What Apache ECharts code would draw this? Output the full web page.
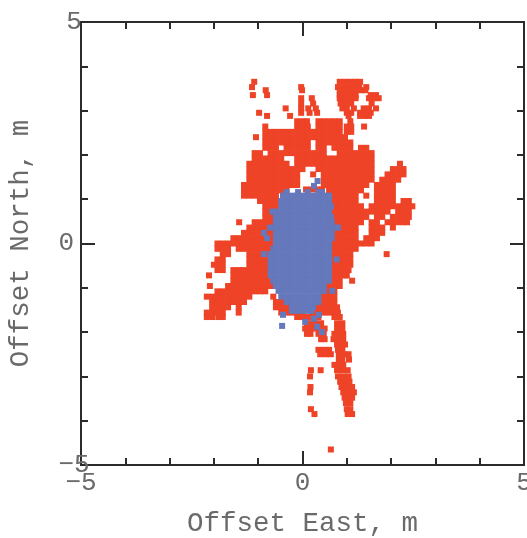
<!DOCTYPE html>
<html><head><meta charset="utf-8">
<style>html,body{margin:0;padding:0;background:#fff}#c{width:527px;height:538px}</style>
<script src="https://cdn.jsdelivr.net/npm/echarts@6/dist/echarts.min.js"></script>
</head><body><div id="c"></div>
<script>
const xTickValues=[-4,-3,-2,-1,1,2,3,4];
const yTickValues=[-4,-3,-2,-1,1,2,3,4];
const labelValues=[-5,0,5];
const xTitle="Offset East, m";
const yTitle="Offset North, m";
// each row: [north, [east values]] in metres
const redRows=[
[3.65,[-1.09,.84,.96,1.08,1.2,1.3]],
[3.53,[-1.14,-.03,.8,.92,1.04,1.16,1.28,1.44]],
[3.46,[-.83,-.01,.84,.96,1.08,1.2,1.32,1.42]],
[3.35,[-.8,-1.12,.84,.96,1.08,1.2,1.54,1.66]],
[3.28,[-.03,.21,.84,.96,1.08,1.2,1.5,1.6,1.72]],
[3.16,[-.03,.24,.86,.98,1.1,1.56]],
[3.05,[-.38,-.03,.13,.3,.9,1.0,1.16,1.38,1.5,1.66]],
[2.95,[-.98,-.03,.16,.33,1.0,1.1,1.3,1.42,1.54]],
[2.88,[-.8,-.28,1.04,1.3,1.42,1.5]],
[2.76,[-.12,0,.1,.36,.48,.6,.72,.84,1.08]],
[2.64,[-.84,-.12,0,.12,.36,.48,.6,.72,.84,1.0,1.1,1.39]],
[2.52,[-.84,-.72,-.6,-.48,-.36,-.24,-.12,0,.12,.24,.36,.48,.6,.72,.84,1.0,1.1]],
[2.4,[-1.05,-.84,-.72,-.6,-.48,-.36,-.24,-.12,0,.12,.24,.36,.48,.6,.72,.84,.96]],
[2.28,[-.84,-.72,-.6,-.48,-.36,-.24,-.12,0,.12,.36,.48,.6,.72,.84,.96,1.08]],
[2.16,[-.84,-.72,-.6,-.36,-.24,-.12,0,.12,.36,.48,.72,.84,.96,1.08,1.32,1.44]],
[2.04,[-1.08,-.96,-.72,-.6,-.48,-.36,-.24,-.12,0,.12,.24,.36,.48,.84,.96,1.08,1.2,1.32,1.44,1.56]],
[1.92,[-1.08,-.96,-.84,-.72,-.6,-.48,-.12,0,.12,.24,.36,.48,.6,.72,.84,.96,1.08,1.2,1.32,1.44,1.56]],
[1.8,[-1.2,-1.08,-.96,-.84,-.72,-.6,-.48,-.36,-.12,0,.12,.24,.36,.48,.6,.72,.84,.96,1.08,1.2,1.32,1.44,1.56,2.2]],
[1.68,[-1.2,-1.08,-.96,-.84,-.72,-.6,-.48,-.36,-.24,-.12,0,.36,.48,.6,.72,.84,.96,1.08,1.2,1.32,1.44,1.56,2.04,2.16,2.28]],
[1.56,[-1.2,-1.08,-.96,-.84,-.72,-.6,-.48,-.36,-.24,-.12,.24,.48,.6,.72,.84,.96,1.08,1.2,1.32,1.44,1.56,1.92,2.04,2.16,2.28]],
[1.44,[-1.2,-1.08,-.96,-.84,-.72,-.6,-.48,-.36,-.24,-.12,.48,.6,.72,.84,.96,1.08,1.2,1.32,1.44,1.56,1.8,1.92,2.04,2.16]],
[1.32,[-1.32,-1.2,-1.08,-.96,-.84,-.72,-.6,-.48,-.36,-.24,-.12,.48,.6,.72,.84,.96,1.08,1.2,1.32,1.44,1.68,1.8,1.92,2.04]],
[1.22,[.08,.2,.32,.44]],
[1.2,[-1.32,-1.2,-1.08,-.96,-.84,-.72,-.6,-.48,-.36,.6,.72,.84,.96,1.08,1.2,1.32,1.68,1.8,1.92,2.04]],
[1.08,[-1.32,-1.2,-1.08,-.96,-.84,-.72,-.6,.6,.72,.84,.96,1.08,1.2,1.44,1.68,1.8,1.92,2.04]],
[.96,[-.96,-.84,-.72,-.6,.6,.72,.84,.96,1.08,1.2,1.68,1.8,1.92,2.04,2.28,2.4]],
[.84,[-.84,-.72,-.6,.6,.72,.84,.96,1.08,1.2,1.32,1.56,1.68,1.8,1.92,2.04,2.16,2.28,2.4,2.48]],
[.72,[-.84,-.72,-.6,.6,.72,.84,.96,1.08,1.2,1.32,1.44,1.56,1.68,1.8,1.92,2.16,2.28,2.4]],
[.6,[-.84,-.72,-.6,.6,.72,.84,.96,1.08,1.2,1.32,1.44,1.68,1.8,2.04,2.16,2.28,2.4]],
[.48,[-1.43,-1.08,-.96,-.84,-.72,-.6,.6,.72,.84,.96,1.08,1.2,1.32,1.56,1.68,1.92,2.04,2.16,2.28,2.36]],
[.36,[-1.2,-1.08,-.96,-.84,-.72,-.6,.6,.72,.84,.96,1.08,1.2,1.56,1.68,1.8,2.04]],
[.24,[-1.32,-1.2,-1.08,-.96,-.84,-.72,.72,.84,.96,1.08,1.2,1.56,1.68,1.8]],
[.12,[-1.56,-1.44,-1.32,-1.2,-1.08,-.96,-.84,-.72,.72,.84,.96,1.08,1.2,1.44,1.56,1.68]],
[0,[-1.92,-1.8,-1.68,-1.56,-1.44,-1.32,-1.2,-1.08,-.96,-.84,-.72,.72,.84,.96,1.08,1.2,1.32,1.44,1.56]],
[-.12,[-1.92,-1.8,-1.68,-1.44,-1.32,-1.2,-1.08,-.96,-.84,-.72,.72,.84,.96,1.08,1.2]],
[-.24,[-1.8,-1.68,-1.2,-1.08,-.96,-.84,-.72,.72,.84,.96,1.08,1.9]],
[-.36,[-1.92,-1.8,-1.2,-1.08,-.96,-.84,-.72,.72,.84,.96,1.08]],
[-.48,[-2.0,-1.92,-1.8,-1.2,-1.08,-.96,-.84,-.72,.72,.84,.96,1.08]],
[-.6,[-1.92,-1.8,-1.56,-1.44,-1.32,-1.2,-1.08,-.96,-.84,-.72,.72,.84,.96,1.04]],
[-.72,[-2.11,-1.56,-1.44,-1.32,-1.2,-1.08,-.96,-.84,-.72,.72,.84,.96,1.0]],
[-.84,[-1.56,-1.44,-1.32,-1.2,-1.08,-.96,-.84,-.72,.6,.72,.84,1.12]],
[-.96,[-2.09,-1.68,-1.56,-1.44,-1.32,-1.2,-1.08,-.96,-.84,-.72,.6,.72,.84]],
[-1.08,[-1.92,-1.8,-1.68,-1.56,-1.44,-1.32,-1.2,-1.08,-.96,-.84,.48,.6,.72]],
[-1.2,[-2.16,-2.04,-1.92,-1.8,-1.68,-1.56,-1.44,-1.32,-1.2,-.66,.48,.6,.72]],
[-1.32,[-2.04,-1.92,-1.8,-1.68,-1.56,-1.44,-1.32,-.6,-.48,.36,.48,.6,.72]],
[-1.44,[-2.04,-1.92,-1.8,-1.68,-1.44,-.6,-.48,-.36,.3,.42,.54,.66,.78]],
[-1.56,[-2.16,-2.04,-1.92,-1.8,-1.44,-.48,-.36,-.24,-.12,0,.24,.36,.48,.6,.72,.8]],
[-1.66,[-2.16,-2.04,-1.9,-1.8,-.12,0,.12,.24,.36,.72,.84]],
[-1.8,[.1,.2,.3,.42,.78,.9]],
[-1.92,[.06,.18,.3,.42,.5,.78,.9]],
[-2.04,[.1,.18,.36,.48,.72,.84,.92]],
[-2.16,[.42,.5,.7,.8,.92]],
[-2.28,[.78,.9,.96]],
[-2.4,[.36,.48,.6,.8,.9]],
[-2.5,[.4,.52,.64,.82,.94,1.04]],
[-2.62,[.82,.9,1.05]],
[-2.74,[.72,.84,.92]],
[-2.86,[.19,.41,.78,.9,1.02]],
[-3.0,[.17,.8,.92,1.04]],
[-3.12,[.85,.97,1.06]],
[-3.24,[.18,.88,1.0,1.12]],
[-3.36,[.17,.92,1.04,1.16]],
[-3.48,[.95,1.05,1.12]],
[-3.6,[.98,1.08]],
[-3.74,[.19,1.0,1.08]],
[-3.85,[.27,1.02,1.12]],
[-4.65,[.64]]
];
const blueRows=[
[1.41,[.34]],
[1.3,[.26]],
[1.16,[-.36,-.1,.12,.36,.44]],
[1.08,[-.44,-.36,-.24,-.12,0,.12,.24,.36,.48,.6]],
[.96,[-.48,-.36,-.24,-.12,0,.12,.24,.36,.48,.6]],
[.84,[-.48,-.36,-.24,-.12,0,.12,.24,.36,.48,.6,.64]],
[.72,[-.68,-.6,-.48,-.36,-.24,-.12,0,.12,.24,.36,.48,.6]],
[.6,[-.6,-.48,-.36,-.24,-.12,0,.12,.24,.36,.48,.6,.64]],
[.48,[-.6,-.48,-.36,-.24,-.12,0,.12,.24,.36,.48,.6,.66]],
[.36,[-.73,-.6,-.48,-.36,-.24,-.12,0,.12,.24,.36,.48,.6,.72,.8]],
[.24,[-.87,-.6,-.48,-.36,-.24,-.12,0,.12,.24,.36,.48,.6,.66]],
[.12,[-.8,-.6,-.48,-.36,-.24,-.12,0,.12,.24,.36,.48,.6,.66]],
[0,[-.6,-.48,-.36,-.24,-.12,0,.12,.24,.36,.48,.6]],
[-.12,[-.66,-.6,-.48,-.36,-.24,-.12,0,.12,.24,.36,.48,.6]],
[-.24,[-.87,-.72,-.6,-.48,-.36,-.24,-.12,0,.12,.24,.36,.48,.6]],
[-.36,[-.72,-.6,-.48,-.36,-.24,-.12,0,.12,.24,.36,.48,.6,.77]],
[-.48,[-.72,-.6,-.48,-.36,-.24,-.12,0,.12,.24,.36,.48,.6]],
[-.6,[-.72,-.6,-.48,-.36,-.24,-.12,0,.12,.24,.36,.48,.6]],
[-.72,[-.72,-.6,-.48,-.36,-.24,-.12,0,.12,.24,.36,.48,.6]],
[-.84,[-.66,-.6,-.48,-.36,-.24,-.12,0,.12,.24,.36,.48,.6]],
[-.96,[-.6,-.48,-.36,-.24,-.12,0,.12,.24,.36,.48]],
[-1.07,[-.54,-.42,-.3,-.18,-.06,.06,.18,.3,.42,.48,.67]],
[-1.2,[-.48,-.36,-.24,-.12,0,.12,.24,.36]],
[-1.32,[-.36,-.24,-.12,0,.12,.24,.36]],
[-1.44,[-.24,-.12,0,.12,.24]],
[-1.52,[-.24,-.12,0,.12,.2]],
[-1.61,[-.44,.37]],
[-1.7,[.26]],
[-1.77,[.06]],
[-1.86,[-.46]],
[-1.88,[.33]],
[-2.0,[.44]]
];
const flatten=rows=>rows.flatMap(([n,es])=>es.map(e=>[e,n]));
const ink="#2b2b2b", textInk="#6a6a6a";
const font="'Liberation Mono',monospace";
const baseX={type:'value',min:-5,max:5,interval:1,splitLine:{show:false},axisLabel:{show:false},axisTick:{show:false},
  axisLine:{onZero:false,lineStyle:{color:ink,width:2}}};
const baseY=baseX;
const chart=echarts.init(document.getElementById('c'),null,{renderer:'canvas'});
const lab=v=>v<0?'\u2212'+Math.abs(v):String(v);
const tick=(vals,len)=>({show:true,inside:true,length:len,customValues:vals,lineStyle:{color:ink,width:2}});
chart.setOption({
  animation:false,
  backgroundColor:'#fff',
  grid:{left:81,right:3,top:22,bottom:73,containLabel:false,outerBoundsMode:'none'},
  xAxis:[
    {...baseX,position:'bottom',axisTick:tick(xTickValues,7),
     name:xTitle,nameLocation:'middle',nameGap:45,nameTextStyle:{fontFamily:font,fontSize:27.5,color:textInk},
     axisLabel:{show:true,customValues:labelValues,formatter:lab,fontFamily:font,fontSize:26,color:textInk,margin:5,showMinLabel:true,showMaxLabel:true,hideOverlap:false,alignMinLabel:'center',alignMaxLabel:'center'}},
    {...baseX,position:'top',axisTick:tick(xTickValues,7)},
    {...baseX,position:'bottom',axisTick:tick([0],14)},
    {...baseX,position:'top',axisTick:tick([0],14)}
  ],
  yAxis:[
    {...baseY,position:'left',axisTick:tick(yTickValues,7),
     name:yTitle,nameLocation:'middle',nameGap:46,nameTextStyle:{fontFamily:font,fontSize:27.5,color:textInk},
     axisLabel:{show:true,customValues:labelValues,formatter:lab,fontFamily:font,fontSize:26,color:textInk,margin:7,padding:[0,0,4,0],showMinLabel:true,showMaxLabel:true,hideOverlap:false,alignMinLabel:'center',alignMaxLabel:'center'}},
    {...baseY,position:'right',axisTick:tick(yTickValues,7)},
    {...baseY,position:'left',axisTick:tick([0],14)},
    {...baseY,position:'right',axisTick:tick([0],14)}
  ],
  series:[
    {type:'scatter',name:'Red',symbol:'rect',symbolSize:6,itemStyle:{color:'#ee4327',opacity:1},data:flatten(redRows),z:2},
    {type:'scatter',name:'Blue',symbol:'rect',symbolSize:6,itemStyle:{color:'#6478bb',opacity:1},data:flatten(blueRows),z:3}
  ]
});
</script></body></html>
